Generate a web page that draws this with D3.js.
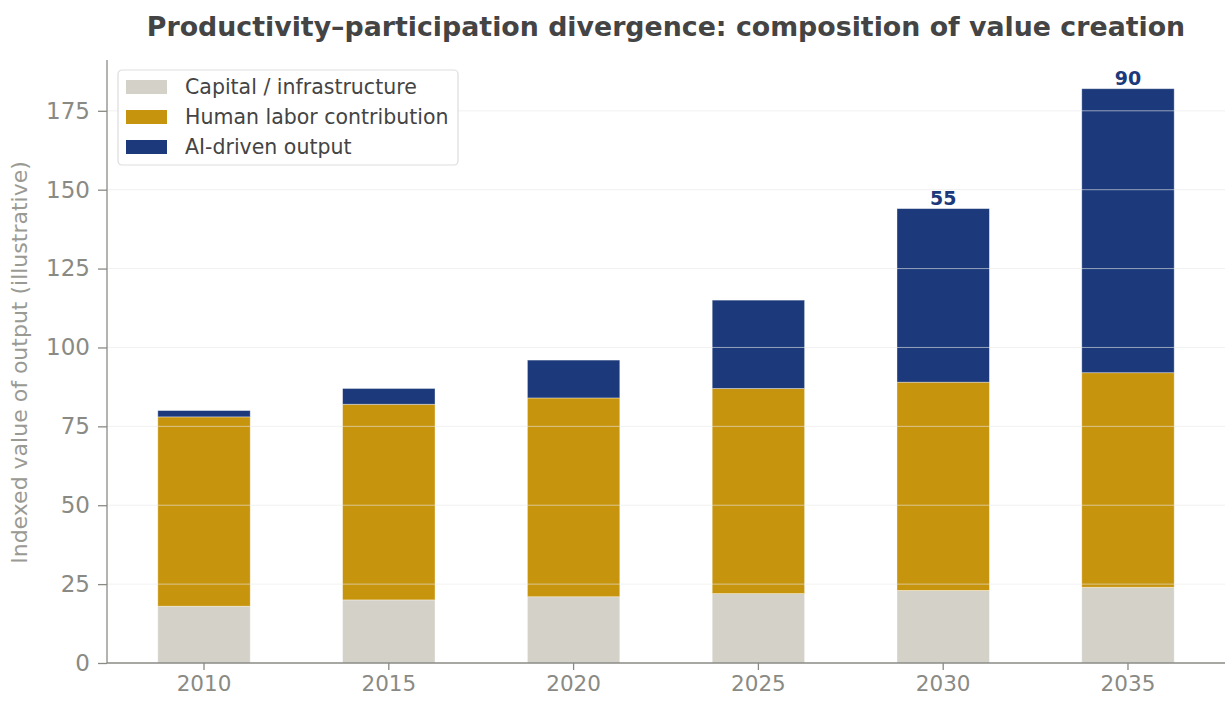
<!DOCTYPE html>
<html>
<head>
<meta charset="utf-8">
<script src="https://cdn.jsdelivr.net/npm/d3@7"></script>
<style>
  html, body { margin: 0; padding: 0; background: #fff; }
  svg { display: block; font-family: "DejaVu Sans", sans-serif; }
</style>
</head>
<body>
<svg id="chart" width="1231" height="703"></svg>
<script>
const years = ["2010", "2015", "2020", "2025", "2030", "2035"];
const capital = [18, 20, 21, 22, 23, 24];
const labor = [60, 62, 63, 65, 66, 68];
const ai = [2, 5, 12, 28, 55, 90];
const seriesNames = ["Capital / infrastructure", "Human labor contribution", "AI-driven output"];
const seriesColors = ["#d4d1c9", "#c7940d", "#1c3a7b"];
const yTicks = [0, 25, 50, 75, 100, 125, 150, 175];
const labeledYears = ["2030", "2035"];

const svg = d3.select("#chart");
const W = 1231, H = 703;
const m = { left: 107, right: 6, top: 60, bottom: 40 };
const x0 = m.left, x1 = W - m.right, y0 = H - m.bottom, y1 = m.top;

const table = years.map((yr, i) => ({ year: yr, capital: capital[i], labor: labor[i], ai: ai[i] }));
const keys = ["capital", "labor", "ai"];
const stacked = d3.stack().keys(keys)(table);
const maxTotal = d3.max(table, d => d.capital + d.labor + d.ai);

const x = d3.scaleBand().domain(years).range([x0, x1]).paddingInner(0.5).paddingOuter(0.275);
const y = d3.scaleLinear().domain([0, maxTotal * 1.05]).range([y0, y1]);

const axisColor = "#8a8a84";
const textColor = "#8a8a84";

// bars
stacked.forEach((layer, li) => {
  svg.append("g").selectAll("rect").data(layer).join("rect")
    .attr("x", d => x(d.data.year))
    .attr("width", x.bandwidth())
    .attr("y", d => y(d[1]))
    .attr("height", d => y(d[0]) - y(d[1]))
    .attr("fill", seriesColors[li])
    .attr("stroke", "#ffffff")
    .attr("stroke-opacity", 0.45)
    .attr("stroke-width", 0.8);
});

// grid on top (light)
svg.append("g").selectAll("line").data(yTicks.filter(t => t > 0)).join("line")
  .attr("x1", x0).attr("x2", x1)
  .attr("y1", d => y(d)).attr("y2", d => y(d))
  .attr("stroke", "#e8e8e8").attr("stroke-opacity", 0.6).attr("stroke-width", 1);

// value labels
table.forEach(d => {
  if (labeledYears.includes(d.year)) {
    svg.append("text")
      .attr("x", x(d.year) + x.bandwidth() / 2)
      .attr("y", y(d.capital + d.labor + d.ai) - 4)
      .attr("text-anchor", "middle")
      .attr("font-size", 19).attr("font-weight", "bold")
      .attr("fill", seriesColors[2])
      .text(d.ai);
  }
});

// axes
const yAxis = svg.append("g").attr("transform", `translate(${x0},0)`)
  .call(d3.axisLeft(y).tickValues(yTicks).tickSize(9).tickPadding(8));
yAxis.select(".domain").attr("stroke", axisColor).attr("stroke-width", 1.3)
  .attr("d", `M0,${y0}V${y1}`);
yAxis.selectAll(".tick line").attr("stroke", axisColor).attr("stroke-width", 1.3);
yAxis.selectAll(".tick text").attr("fill", textColor).attr("font-size", 23)
  .attr("font-family", "DejaVu Sans");

const xAxis = svg.append("g").attr("transform", `translate(0,${y0})`)
  .call(d3.axisBottom(x).tickSize(7).tickPadding(6));
xAxis.select(".domain").attr("stroke", axisColor).attr("stroke-width", 1.3)
  .attr("d", `M${x0},0H${x1}`);
xAxis.selectAll(".tick line").attr("stroke", axisColor).attr("stroke-width", 1.3);
xAxis.selectAll(".tick text").attr("fill", textColor).attr("font-size", 21.5)
  .attr("font-family", "DejaVu Sans");

// y label
svg.append("text")
  .attr("transform", `translate(27,${(y0 + y1) / 2 + 1}) rotate(-90)`)
  .attr("text-anchor", "middle")
  .attr("font-size", 22).attr("fill", "#9a9a94")
  .text("Indexed value of output (illustrative)");

// title
svg.append("text")
  .attr("x", (x0 + x1) / 2).attr("y", 36)
  .attr("text-anchor", "middle")
  .attr("font-size", 26.8).attr("font-weight", "bold").attr("fill", "#444444")
  .text("Productivity\u2013participation divergence: composition of value creation");

// legend
const lg = svg.append("g").attr("transform", "translate(118,70)");
lg.append("rect").attr("x", 0).attr("y", 0).attr("width", 340).attr("height", 95)
  .attr("rx", 4).attr("fill", "#ffffff").attr("fill-opacity", 0.85)
  .attr("stroke", "#dddddd").attr("stroke-width", 1.2);
seriesNames.forEach((name, i) => {
  const cy = 17 + i * 30;
  lg.append("rect").attr("x", 8).attr("y", cy - 7).attr("width", 41).attr("height", 14)
    .attr("fill", seriesColors[i]);
  lg.append("text").attr("x", 67).attr("y", cy).attr("dy", "0.35em")
    .attr("font-size", 20.5).attr("fill", "#444444").text(name);
});
</script>
</body>
</html>
